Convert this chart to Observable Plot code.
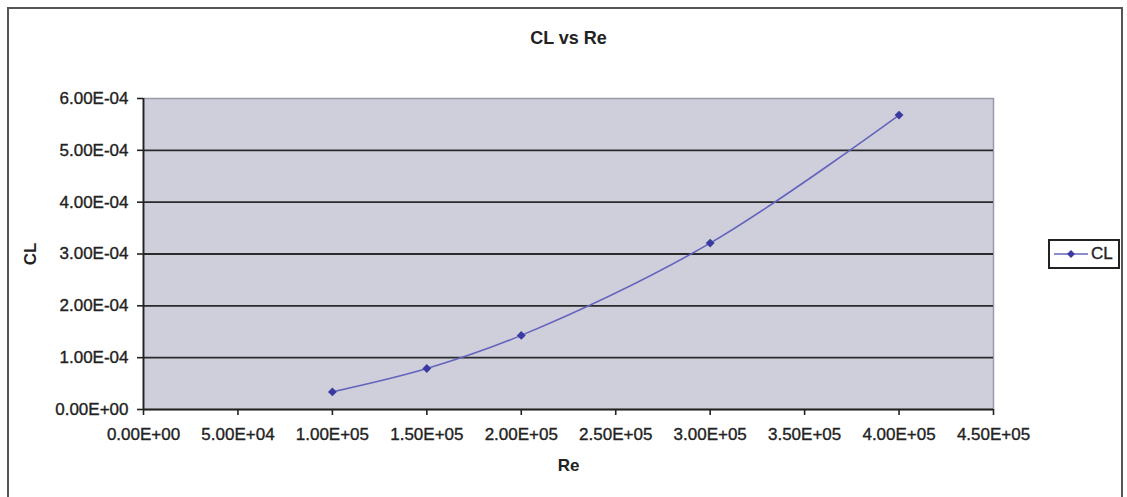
<!DOCTYPE html>
<html>
<head>
<meta charset="utf-8">
<script src="https://cdn.jsdelivr.net/npm/d3@7"></script>
<script src="https://cdn.jsdelivr.net/npm/@observablehq/plot@0.6"></script>
<style>
  html, body { margin: 0; padding: 0; background: #fff; }
  #wrap { position: relative; width: 1127px; height: 497px; overflow: hidden; font-family: "Liberation Sans", Arial, sans-serif; }
  #border { position: absolute; left: 7px; top: 7px; width: 1116px; height: 500px; border: 2px solid #555; border-bottom: none; box-sizing: border-box; pointer-events: none; }
  #legend { position: absolute; left: 1048px; top: 239px; width: 72px; height: 30px; border: 2px solid #222; box-sizing: border-box; background: #fff; display: flex; align-items: center; }
  #legend span { font-size: 17px; color: #222; margin-left: 3px; -webkit-text-stroke: 0.35px #222; }
  #chart svg g[aria-label^="y-axis tick label"] text,
  #chart svg g[aria-label^="x-axis tick label"] text { stroke: #222; stroke-width: 0.35px; }
</style>
</head>
<body>
<div id="wrap">
  <div id="chart"></div>
  <div id="border"></div>
  <div id="legend"><svg id="legsym" width="38" height="26"></svg><span id="legtext"></span></div>
</div>
<script>
// ---- data ----
const chartTitle = "CL vs Re";
const xLabel = "Re";
const yLabel = "CL";
const seriesName = "CL";
const re = [1.0e5, 1.5e5, 2.0e5, 3.0e5, 4.0e5];
const cl = [3.4e-5, 7.9e-5, 1.43e-4, 3.21e-4, 5.68e-4];
const xTicks = [0, 5e4, 1e5, 1.5e5, 2e5, 2.5e5, 3e5, 3.5e5, 4e5, 4.5e5];
const yTicks = [0, 1e-4, 2e-4, 3e-4, 4e-4, 5e-4, 6e-4];
const yGrid = [1e-4, 2e-4, 3e-4, 4e-4, 5e-4];

const lineColor = "#6464bc";
const dotColor = "#3a3aa0";

function excelSci(v) {
  if (v === 0) return "0.00E+00";
  let e = Math.floor(Math.log10(Math.abs(v)) + 1e-9);
  let m = v / Math.pow(10, e);
  if (Math.abs(m) >= 9.995) { m /= 10; e += 1; }
  return m.toFixed(2) + "E" + (e < 0 ? "-" : "+") + String(Math.abs(e)).padStart(2, "0");
}

const data = re.map((r, i) => ({re: r, cl: cl[i]}));

const chart = Plot.plot({
  width: 1127,
  height: 497,
  marginLeft: 143,
  marginRight: 134,
  marginTop: 98,
  marginBottom: 88,
  style: {fontFamily: "'Liberation Sans', Arial, sans-serif", fontSize: "17px", color: "#222", background: "transparent"},
  x: {domain: [0, 4.5e5]},
  y: {domain: [0, 6e-4]},
  marks: [
    Plot.frame({fill: "#cfcfdc", stroke: "#9a9aa6", strokeWidth: 1.5}),
    Plot.ruleY(yGrid, {stroke: "#2a2a2a", strokeWidth: 1.8}),
    Plot.ruleX([0], {stroke: "#222", strokeWidth: 1.8}),
    Plot.ruleY([0], {stroke: "#222", strokeWidth: 1.8}),
    Plot.axisY({ticks: yTicks, tickFormat: excelSci, tickSize: 6, tickPadding: 9, fontSize: 17, label: null, stroke: "#222", strokeWidth: 1.6}),
    Plot.axisX({ticks: xTicks, tickFormat: excelSci, tickSize: 6, tickPadding: 12, fontSize: 17, label: null, stroke: "#222", strokeWidth: 1.6}),
    Plot.line(data, {x: "re", y: "cl", curve: "catmull-rom", stroke: lineColor, strokeWidth: 1.6}),
    Plot.dot(data, {x: "re", y: "cl", symbol: "diamond2", r: 4, fill: dotColor, stroke: "none"}),
    Plot.text([chartTitle], {frameAnchor: "top", dy: -60, lineAnchor: "middle", fontSize: 18, fontWeight: "bold", fill: "#222"}),
    Plot.text([xLabel], {frameAnchor: "bottom", dy: 56, lineAnchor: "middle", fontSize: 17, fontWeight: "bold", fill: "#222"}),
    Plot.text([yLabel], {frameAnchor: "left", dx: -113, rotate: -90, textAnchor: "middle", lineAnchor: "middle", fontSize: 17, fontWeight: "bold", fill: "#222"})
  ]
});
document.getElementById("chart").appendChild(chart);

// legend
const leg = d3.select("#legsym");
leg.append("line").attr("x1", 4).attr("x2", 38).attr("y1", 13).attr("y2", 13).attr("stroke", lineColor).attr("stroke-width", 1.6);
leg.append("path").attr("d", d3.symbol(d3.symbolDiamond2, 40)()).attr("transform", "translate(21,13)").attr("fill", dotColor);
document.getElementById("legtext").textContent = seriesName;
</script>
</body>
</html>
